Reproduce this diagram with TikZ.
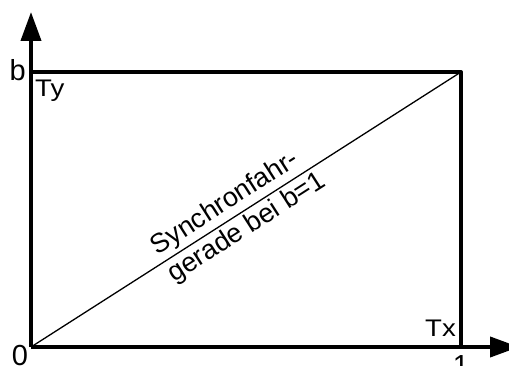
\documentclass[tikz,border=0pt]{standalone}
\usepackage{fontspec}
\setmainfont{Liberation Sans}
\usetikzlibrary{arrows.meta}
\newcommand{\wide}[1]{\scalebox{1.15}[1]{#1}}
\begin{document}
\begin{tikzpicture}[x=1pt, y=1pt, line join=round,
  big/.style={font=\fontsize{29}{29}\selectfont, inner sep=0},
  small/.style={font=\fontsize{24}{24}\selectfont, inner sep=0},
  slant/.style={font=\fontsize{27}{27}\selectfont, inner sep=3pt, sloped}]
\useasboundingbox (0,0) rectangle (509,365);

\coordinate (v1) at (31,18);
\coordinate (v2) at (31,293);
\coordinate (v3) at (461,293);
\coordinate (v4) at (461,18);
\coordinate (v5) at (31,353);
\coordinate (v6) at (519,18);

\draw [line width=4pt, -{Triangle[length=29pt, width=20pt]}] (v1) -- (v5);
\draw [line width=4pt, -{Triangle[length=29pt, width=20pt]}] (v1) -- (v6);
\draw [line width=4pt] (v2) -- (v3) -- (v4);
\draw [line width=1.3pt] (v1) -- (v3)
  node (s1) [pos=0.472, above, slant] {Synchronfahr-}
  node (s2) [pos=0.482, below, slant] {gerade bei b=1};

\node (b) [big, anchor=base east] at (26,284) {b};
\node (ty) [small, anchor=base west] at (35,269) {\wide{Ty}};
\node (n0) [big, anchor=north] at (20,20) {0};
\node (n1) [big, anchor=north] at (461,10) {1};
\node (tx) [small, anchor=base east] at (456,29) {\wide{Tx}};
\end{tikzpicture}
\end{document}
